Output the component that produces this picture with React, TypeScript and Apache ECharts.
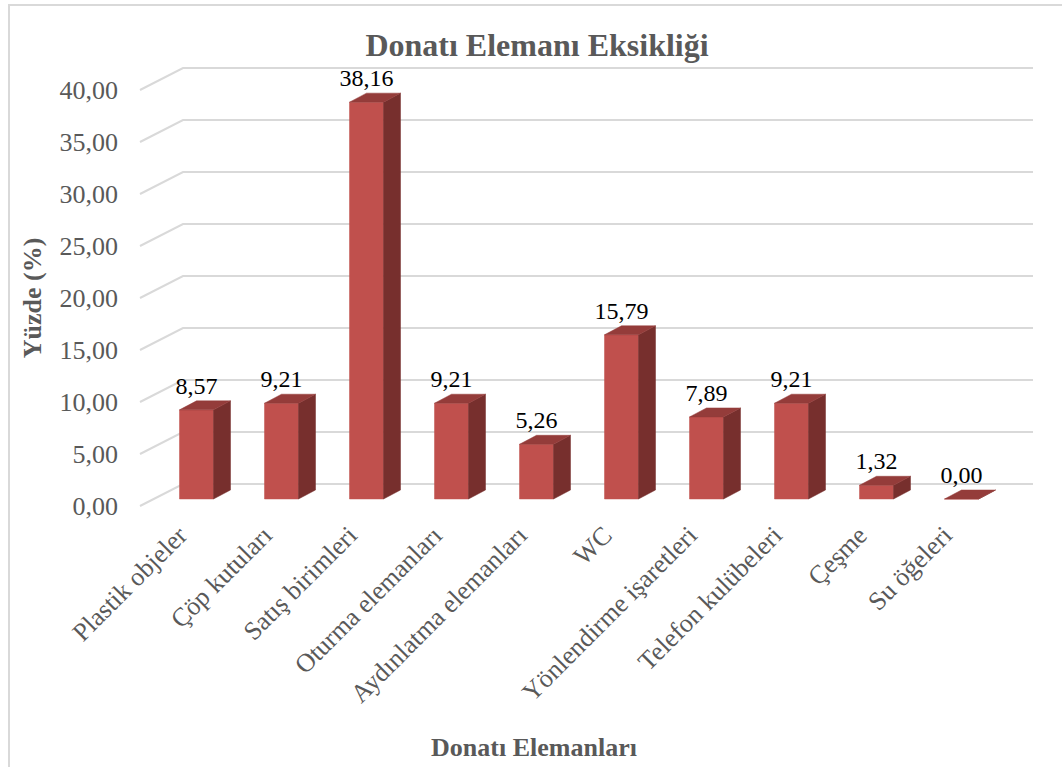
import React, { useEffect, useRef } from "react";
import * as echarts from "echarts";

const categories = [
  "Plastik objeler",
  "Çöp kutuları",
  "Satış birimleri",
  "Oturma elemanları",
  "Aydınlatma elemanları",
  "WC",
  "Yönlendirme işaretleri",
  "Telefon kulübeleri",
  "Çeşme",
  "Su öğeleri",
];
const values = [8.57, 9.21, 38.16, 9.21, 5.26, 15.79, 7.89, 9.21, 1.32, 0.0];
const yTicks = [0, 5, 10, 15, 20, 25, 30, 35, 40];

const FONT = '"Liberation Serif", "Times New Roman", serif';
const fmt = (v: number) => v.toFixed(2).replace(".", ",");

export default function App() {
  const ref = useRef<HTMLDivElement>(null);
  useEffect(() => {
    if (!ref.current) return;
    const chart = echarts.init(ref.current, null, { renderer: "svg" });
    const wallDx = 43;
    const wallDy = -22;
    const barDx = 14;
    const barDy = -7;
    const sideDx = 17;
    const sideDy = -9;
    const option: any = {
      animation: false,
      backgroundColor: "#ffffff",
      title: {
        text: "Donatı Elemanı Eksikliği",
        left: 532,
        textAlign: "center",
        top: 24,
        textStyle: { fontFamily: FONT, fontSize: 32, fontWeight: "bold", color: "#595959" },
      },
      graphic: [
        {
          type: "rect",
          shape: { x: 9, y: 5, width: 1200, height: 900 },
          style: { fill: "none", stroke: "#D9D9D9", lineWidth: 2 },
          silent: true,
          z: -10,
        },
      ],
      grid: { left: 140, right: 72, top: 90, bottom: 261 },
      xAxis: {
        type: "category",
        data: categories,
        name: "Donatı Elemanları",
        nameLocation: "middle",
        nameGap: 228,
        nameTextStyle: {
          fontFamily: FONT,
          fontSize: 26,
          fontWeight: "bold",
          color: "#595959",
          padding: [0, 62, 0, 0],
        },
        axisLine: { show: false },
        axisTick: { show: false },
        axisLabel: {
          rotate: 45,
          interval: 0,
          margin: 25,
          fontFamily: FONT,
          fontSize: 26,
          color: "#595959",
        },
      },
      yAxis: {
        type: "value",
        min: 0,
        max: 40,
        interval: 5,
        name: "Yüzde (%)",
        nameLocation: "middle",
        nameGap: 95,
        nameTextStyle: { fontFamily: FONT, fontSize: 26, fontWeight: "bold", color: "#595959" },
        splitLine: { show: false },
        axisLine: { show: false },
        axisTick: { show: false },
        axisLabel: {
          margin: 22,
          fontFamily: FONT,
          fontSize: 26,
          color: "#595959",
          formatter: (v: number) => fmt(v),
        },
      },
      series: [
        {
          type: "custom",
          z: 1,
          silent: true,
          data: yTicks.map((v) => [0, v]),
          renderItem: (params: any, api: any) => {
            const cs = params.coordSys;
            const y = api.coord([0, api.value(1)])[1];
            return {
              type: "polyline",
              shape: {
                points: [
                  [cs.x, y],
                  [cs.x + wallDx, y + wallDy],
                  [cs.x + cs.width + wallDx, y + wallDy],
                ],
              },
              style: { stroke: "#D9D9D9", lineWidth: 2, fill: "none" },
            };
          },
        },
        {
          type: "custom",
          z: 2,
          data: values.map((v, i) => [i, v]),
          renderItem: (params: any, api: any) => {
            const idx = api.value(0);
            const v = api.value(1);
            const p0 = api.coord([idx, 0]);
            const p1 = api.coord([idx, v]);
            const bw = api.size([1, 0])[0] * 0.4;
            const cx = p0[0] + barDx;
            const yb = p0[1] + barDy;
            const yt = p1[1] + barDy;
            const l = cx - bw / 2;
            const r = cx + bw / 2;
            return {
              type: "group",
              children: [
                {
                  type: "polygon",
                  shape: { points: [[l, yb], [r, yb], [r, yt], [l, yt]] },
                  style: { fill: "#C0504D", stroke: "#C0504D", lineWidth: 0.5 },
                },
                {
                  type: "polygon",
                  shape: {
                    points: [
                      [r, yb],
                      [r + sideDx, yb + sideDy],
                      [r + sideDx, yt + sideDy],
                      [r, yt],
                    ],
                  },
                  style: { fill: "#772F2D", stroke: "#772F2D", lineWidth: 0.5 },
                },
                {
                  type: "polygon",
                  shape: {
                    points: [
                      [l, yt],
                      [r, yt],
                      [r + sideDx, yt + sideDy],
                      [l + sideDx, yt + sideDy],
                    ],
                  },
                  style: { fill: "#943C3A", stroke: "#943C3A", lineWidth: 0.5 },
                },
                {
                  type: "text",
                  style: {
                    text: fmt(v),
                    x: cx,
                    y: yt - 12,
                    align: "center",
                    verticalAlign: "bottom",
                    fill: "#000000",
                    font: `24px ${FONT}`,
                  },
                },
              ],
            };
          },
        },
      ],
    };
    chart.setOption(option);
    return () => chart.dispose();
  }, []);
  return (
    <div
      ref={ref}
      style={{ position: "absolute", left: 0, top: 0, width: 1062, height: 767 }}
    />
  );
}
